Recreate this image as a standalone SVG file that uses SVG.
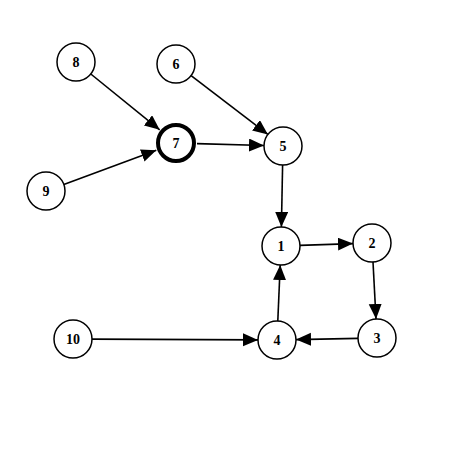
<svg xmlns="http://www.w3.org/2000/svg" width="451" height="451" viewBox="0 0 451 451">
<style>
.node circle{fill:#fff;stroke:#000;stroke-width:1.5}
.node text{font-family:"Liberation Serif",serif;font-weight:bold;font-size:14px;text-anchor:middle;dominant-baseline:central;fill:#000}
#connectors line{stroke:#000;stroke-width:1.6;marker-end:url(#arr)}
</style>
<defs>
<marker id="arr" markerUnits="userSpaceOnUse" markerWidth="16" markerHeight="14" refX="15" refY="6.5" orient="auto">
<path d="M0,0 L15,6.5 L0,13 Z" fill="#000"/>
</marker>
</defs>
<rect width="451" height="451" fill="#fff"/>
<g id="connectors">
<line x1="90.8" y1="74" x2="159.7" y2="129.8"/>
<line x1="63.8" y1="184.4" x2="156.3" y2="150.3"/>
<line x1="191.1" y1="75.6" x2="267.9" y2="134.4"/>
<line x1="197" y1="143.6" x2="264" y2="145.5"/>
<line x1="282.6" y1="165" x2="281.4" y2="227"/>
<line x1="300" y1="245.4" x2="353" y2="243.6"/>
<line x1="373" y1="262" x2="376" y2="319"/>
<line x1="358" y1="338.4" x2="296" y2="339.6"/>
<line x1="92" y1="339.1" x2="258" y2="339.9"/>
<line x1="277.8" y1="321" x2="280.2" y2="265"/>
</g>
<g id="node8" class="node"><circle cx="76" cy="62" r="19"/><text x="76" y="62">8</text></g>
<g id="node6" class="node"><circle cx="176" cy="64" r="19"/><text x="176" y="64">6</text></g>
<g id="node7" class="node"><circle cx="176" cy="143" r="18" style="stroke-width:4"/><text x="176" y="143">7</text></g>
<g id="node5" class="node"><circle cx="283" cy="146" r="19"/><text x="283" y="146">5</text></g>
<g id="node9" class="node"><circle cx="46" cy="191" r="19"/><text x="46" y="191">9</text></g>
<g id="node1" class="node"><circle cx="281" cy="246" r="19"/><text x="281" y="246">1</text></g>
<g id="node2" class="node"><circle cx="372" cy="243" r="19"/><text x="372" y="243">2</text></g>
<g id="node10" class="node"><circle cx="73" cy="339" r="19"/><text x="73" y="339">10</text></g>
<g id="node4" class="node"><circle cx="277" cy="340" r="19"/><text x="277" y="340">4</text></g>
<g id="node3" class="node"><circle cx="377" cy="338" r="19"/><text x="377" y="338">3</text></g>
</svg>
